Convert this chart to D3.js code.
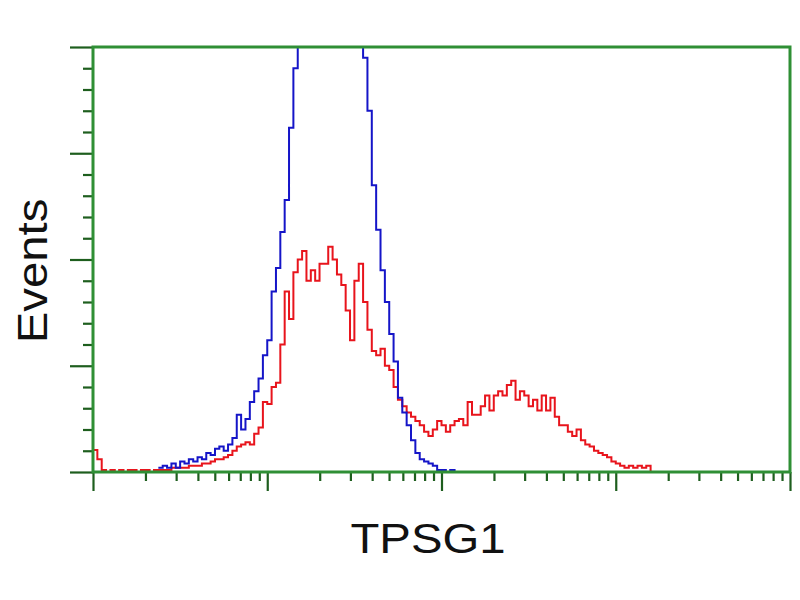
<!DOCTYPE html>
<html>
<head>
<meta charset="utf-8">
<script src="https://cdn.jsdelivr.net/npm/d3@7"></script>
<style>
  body { margin: 0; background: #fff; }
  svg { display: block; }
</style>
</head>
<body>
<div id="chart"></div>
<script>
// histogram bins: 40 channels per decade, bin i starts at 10^(i/40)
var binsPerDecade = 40;
var redCounts = [10.4, 6, 1, 0, 1, 0, 1, 0, 1, 1, 0, 1, 1, 0, 1,
  1, 1, 1, 2, 2, 2, 2, 3, 3, 3, 4, 4, 5, 6, 6, 7, 8, 10, 12, 13, 14, 13, 18, 21, 33,
  32, 40, 42, 60, 85, 72, 94, 100, 104, 90, 95, 90, 98, 98, 106, 100, 93, 88, 76, 62,
  90, 98, 80, 67, 57, 55, 58, 50, 48, 40, 34, 31, 28, 26, 24, 22, 19, 17, 20, 24,
  22, 19, 22, 24, 25, 22, 33, 27, 27, 31, 36, 29, 36, 38, 36, 41, 43, 34, 38, 36,
  31, 34, 29, 36, 29, 35, 26, 22, 22, 19, 17, 20, 15, 13, 12, 10, 9, 8, 7, 5,
  4, 3, 2, 3, 2, 3, 2, 3, 0];
var blueStart = 15;
var blueCounts = [2, 3, 2, 4, 2, 5, 4, 6, 5, 7, 6, 9, 8, 11, 12, 10, 13, 16, 27, 20,
  25, 33, 38, 44, 55, 62, 85, 96, 113, 128, 162, 190, 230, 260, 280, 300, 310, 320, 320, 310,
  300, 290, 280, 260, 240, 220, 210, 195, 170, 135, 114, 95, 80, 65, 52, 35, 28, 22, 15, 9,
  6, 5, 4, 3, 1, 1, 0, 1, 0];
var xDomain = [1, 10000];
var yDomain = [0, 200];
var xTitle = "TPSG1";
var yTitle = "Events";

var width = 800, height = 600,
    margin = {top: 47, right: 10, bottom: 128, left: 93},
    innerW = 790 - margin.left,
    innerH = 472 - margin.top;

var toPoints = function(counts, start) {
  var pts = counts.map(function(c, i) {
    return {x: Math.pow(10, (start + i) / binsPerDecade), y: c};
  });
  pts.push({x: Math.pow(10, (start + counts.length) / binsPerDecade), y: 0});
  return pts;
};

var svg = d3.select("#chart").append("svg")
    .attr("width", width)
    .attr("height", height);

var g = svg.append("g")
    .attr("transform", "translate(" + margin.left + "," + margin.top + ")");

var xScale = d3.scaleLog().domain(xDomain).range([0, innerW]),
    yScale = d3.scaleLinear().domain(yDomain).range([innerH, 0]);

g.append("clipPath").attr("id", "plot-clip")
  .append("rect").attr("width", innerW).attr("height", innerH);

var line = d3.line()
    .x(function(d) { return xScale(d.x); })
    .y(function(d) { return yScale(d.y); })
    .curve(d3.curveStepAfter);

var plot = g.append("g").attr("clip-path", "url(#plot-clip)");

plot.append("path")
    .datum(toPoints(redCounts, 0))
    .attr("fill", "none")
    .attr("stroke", "#e8141c")
    .attr("stroke-width", 2)
    .attr("d", line);

plot.append("path")
    .datum(toPoints(blueCounts, blueStart))
    .attr("fill", "none")
    .attr("stroke", "#1515c8")
    .attr("stroke-width", 2)
    .attr("d", line);

// log ticks on the bottom axis
var xMajor = d3.range(0, 5).map(function(k) { return Math.pow(10, k); });
var xMinor = [];
xMajor.slice(0, 4).forEach(function(v) {
  d3.range(2, 10).forEach(function(m) { xMinor.push(v * m); });
});

var xAxisMinor = d3.axisBottom(xScale).tickValues(xMinor).tickSize(9).tickFormat("");
var xAxisMajor = d3.axisBottom(xScale).tickValues(xMajor).tickSize(19).tickFormat("");

var yMajor = d3.range(0, 201, 50), yMinor = d3.range(0, 201, 10).filter(function(v) { return v % 50; });
var yAxisMinor = d3.axisLeft(yScale).tickValues(yMinor).tickSize(10).tickFormat("");
var yAxisMajor = d3.axisLeft(yScale).tickValues(yMajor).tickSize(23).tickFormat("");

[
  g.append("g").attr("transform", "translate(0," + innerH + ")").call(xAxisMinor),
  g.append("g").attr("transform", "translate(0," + innerH + ")").call(xAxisMajor),
  g.append("g").call(yAxisMinor),
  g.append("g").call(yAxisMajor)
].forEach(function(ax) {
  ax.select(".domain").remove();
  ax.selectAll(".tick line").attr("stroke", "#1e5e1e").attr("stroke-width", 2.2);
});

// frame
g.append("rect")
    .attr("width", innerW)
    .attr("height", innerH)
    .attr("fill", "none")
    .attr("stroke", "#2f8f35")
    .attr("stroke-width", 3);

svg.append("text")
    .attr("transform", "translate(428,553) scale(1.1,1)")
    .attr("text-anchor", "middle")
    .style("font-family", "Liberation Sans, Arial, sans-serif")
    .style("font-size", "43px")
    .attr("fill", "#111")
    .text(xTitle);

svg.append("text")
    .attr("transform", "translate(47,271) rotate(-90) scale(1.1,1)")
    .attr("text-anchor", "middle")
    .style("font-family", "Liberation Sans, Arial, sans-serif")
    .style("font-size", "43px")
    .attr("fill", "#111")
    .text(yTitle);
</script>
</body>
</html>
